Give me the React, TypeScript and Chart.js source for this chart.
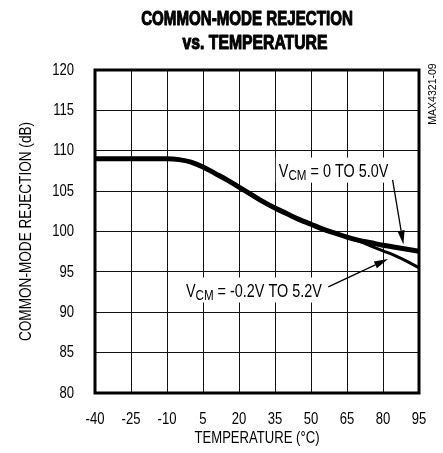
import React, { useEffect, useRef } from "react";
import { Chart, registerables } from "chart.js";

Chart.register(...registerables);

// ---- data ----
const titleLines = ["COMMON-MODE REJECTION", "vs. TEMPERATURE"];
const xAxisTitle = "TEMPERATURE (°C)";
const yAxisTitle = "COMMON-MODE REJECTION (dB)";
const partNumber = "MAX4321-09";

const temperatures = [
  -40, -35, -30, -25, -20, -15, -10, -5, 0, 5, 10, 15, 20, 25, 30, 35, 40, 45,
  50, 55, 60, 65, 70, 75, 80, 85, 90, 95,
];
// V_CM = 0 TO 5.0V
const cmrVcm0to5 = [
  109.0, 109.0, 109.0, 109.0, 109.0, 109.0, 109.0, 108.9, 108.6, 108.0, 107.2,
  106.4, 105.5, 104.6, 103.7, 102.9, 102.2, 101.5, 100.9, 100.3, 99.8, 99.3,
  98.9, 98.6, 98.3, 98.05, 97.8, 97.55,
];
// V_CM = -0.2V TO 5.2V
const cmrVcmM02to52 = [
  109.0, 109.0, 109.0, 109.0, 109.0, 109.0, 109.0, 108.9, 108.6, 108.0, 107.2,
  106.4, 105.5, 104.6, 103.7, 102.9, 102.2, 101.5, 100.9, 100.3, 99.8, 99.3,
  98.8, 98.2, 97.6, 97.0, 96.3, 95.5,
];
const xTicks = [-40, -25, -10, 5, 20, 35, 50, 65, 80, 95];
const yTicks = [80, 85, 90, 95, 100, 105, 110, 115, 120];

// annotation labels (data coordinates: x = temperature, y = dB)
const labelA = { main: "V", sub: "CM", rest: " = 0 TO 5.0V", x: 36.6, y: 106.8 };
const arrowA = { x0: 84.0, y0: 106.4, x1: 88.5, y1: 98.4 };
const labelB = { main: "V", sub: "CM", rest: " = -0.2V TO 5.2V", x: -2.1, y: 91.95 };
const arrowB = { x0: 57.2, y0: 93.15, x1: 82.1, y1: 96.6 };

const FAMILY = "'Liberation Sans', Arial, Helvetica, sans-serif";
const NARROW = 0.82;

type TextOpts = {
  size: number;
  bold?: boolean;
  align?: CanvasTextAlign;
  baseline?: CanvasTextBaseline;
  sx?: number;
  rotate?: number;
  stroke?: number;
};

function setFont(ctx: CanvasRenderingContext2D, size: number, bold?: boolean) {
  ctx.font = `${bold ? "bold " : ""}${size}px ${FAMILY}`;
}

function measureNarrow(ctx: CanvasRenderingContext2D, text: string, size: number, bold = false, sx = NARROW) {
  ctx.save();
  setFont(ctx, size, bold);
  const w = ctx.measureText(text).width * sx;
  ctx.restore();
  return w;
}

function narrowText(ctx: CanvasRenderingContext2D, text: string, x: number, y: number, o: TextOpts) {
  ctx.save();
  setFont(ctx, o.size, o.bold);
  ctx.textAlign = o.align || "left";
  ctx.textBaseline = o.baseline || "alphabetic";
  ctx.fillStyle = "#000";
  ctx.translate(x, y);
  if (o.rotate) ctx.rotate(o.rotate);
  ctx.scale(o.sx ?? NARROW, 1);
  ctx.fillText(text, 0, 0);
  if (o.stroke) {
    ctx.lineWidth = o.stroke;
    ctx.strokeStyle = "#000";
    ctx.lineJoin = "round";
    ctx.strokeText(text, 0, 0);
  }
  ctx.restore();
}

function drawArrow(ctx: CanvasRenderingContext2D, x0: number, y0: number, x1: number, y1: number) {
  const ang = Math.atan2(y1 - y0, x1 - x0);
  const headLen = 14;
  const headW = 3.6;
  const bx = x1 - headLen * Math.cos(ang);
  const by = y1 - headLen * Math.sin(ang);
  ctx.beginPath();
  ctx.moveTo(x0, y0);
  ctx.lineTo(bx, by);
  ctx.lineWidth = 1.3;
  ctx.strokeStyle = "#000";
  ctx.stroke();
  ctx.beginPath();
  ctx.moveTo(x1, y1);
  ctx.lineTo(bx + headW * Math.sin(ang), by - headW * Math.cos(ang));
  ctx.lineTo(bx - headW * Math.sin(ang), by + headW * Math.cos(ang));
  ctx.closePath();
  ctx.fillStyle = "#000";
  ctx.fill();
}

function drawLabel(ctx: CanvasRenderingContext2D, lbl: typeof labelA, px: number, py: number) {
  const mainSize = 18;
  const subSize = 14.5;
  const sx = 0.8;
  const wMain = measureNarrow(ctx, lbl.main, mainSize, false, sx);
  const wSub = measureNarrow(ctx, lbl.sub, subSize, false, sx);
  const wRest = measureNarrow(ctx, lbl.rest, mainSize, false, sx);
  const total = wMain + wSub + wRest;
  ctx.fillStyle = "#fff";
  ctx.fillRect(px - 3, py - 19, total + 6, 25);
  narrowText(ctx, lbl.main, px, py, { size: mainSize, sx });
  narrowText(ctx, lbl.sub, px + wMain, py + 3, { size: subSize, sx });
  narrowText(ctx, lbl.rest, px + wMain + wSub, py, { size: mainSize, sx });
}

const decorPlugin = {
  id: "decor",
  afterDatasetsDraw(chart: any) {
    const { ctx, chartArea, scales } = chart;
    const xs = scales.x;
    const ys = scales.y;
    ctx.save();
    // labels + arrows
    drawLabel(ctx, labelA, xs.getPixelForValue(labelA.x), ys.getPixelForValue(labelA.y));
    drawLabel(ctx, labelB, xs.getPixelForValue(labelB.x), ys.getPixelForValue(labelB.y));
    drawArrow(
      ctx,
      xs.getPixelForValue(arrowA.x0),
      ys.getPixelForValue(arrowA.y0),
      xs.getPixelForValue(arrowA.x1),
      ys.getPixelForValue(arrowA.y1)
    );
    drawArrow(
      ctx,
      xs.getPixelForValue(arrowB.x0),
      ys.getPixelForValue(arrowB.y0),
      xs.getPixelForValue(arrowB.x1),
      ys.getPixelForValue(arrowB.y1)
    );
    // frame
    ctx.strokeStyle = "#000";
    ctx.lineWidth = 3;
    ctx.strokeRect(chartArea.left, chartArea.top, chartArea.right - chartArea.left, chartArea.bottom - chartArea.top);

    // tick labels from the scales' ticks
    xs.ticks.forEach((t: any) => {
      narrowText(ctx, String(t.value), xs.getPixelForValue(t.value), chartArea.bottom + 31, {
        size: 17,
        align: "center",
        sx: 0.77,
      });
    });
    ys.ticks.forEach((t: any) => {
      narrowText(ctx, String(t.value), chartArea.left - 21, ys.getPixelForValue(t.value), {
        size: 17,
        align: "right",
        baseline: "middle",
        sx: 0.77,
      });
    });
    // axis titles
    narrowText(ctx, xAxisTitle, (chartArea.left + chartArea.right) / 2, chartArea.bottom + 50, {
      size: 17,
      align: "center",
      sx: 0.77,
    });
    narrowText(ctx, yAxisTitle, 26, (chartArea.top + chartArea.bottom) / 2, {
      size: 17,
      align: "center",
      baseline: "middle",
      rotate: -Math.PI / 2,
      sx: 0.8,
    });
    // chart title
    narrowText(ctx, titleLines[0], 247, 25, { size: 21, bold: true, align: "center", sx: 0.72, stroke: 1.1 });
    narrowText(ctx, titleLines[1], 255, 49, { size: 21, bold: true, align: "center", sx: 0.75, stroke: 1.1 });
    // part number
    narrowText(ctx, partNumber, chartArea.right + 14, chartArea.top + 24, {
      size: 10.5,
      align: "center",
      baseline: "middle",
      rotate: -Math.PI / 2,
      sx: 1,
    });
    ctx.restore();
  },
};

export default function App() {
  const canvasRef = useRef<HTMLCanvasElement | null>(null);

  useEffect(() => {
    const canvas = canvasRef.current;
    if (!canvas) return;
    const chart = new Chart(canvas, {
      type: "line",
      data: {
        labels: temperatures,
        datasets: [
          {
            label: "VCM = -0.2V TO 5.2V",
            data: temperatures.map((t, i) => ({ x: t, y: cmrVcmM02to52[i] })),
            borderColor: "#000",
            borderWidth: 3,
            pointRadius: 0,
            fill: false,
            cubicInterpolationMode: "monotone",
          },
          {
            label: "VCM = 0 TO 5.0V",
            data: temperatures.map((t, i) => ({ x: t, y: cmrVcm0to5[i] })),
            borderColor: "#000",
            borderWidth: 5,
            pointRadius: 0,
            fill: false,
            cubicInterpolationMode: "monotone",
          },
        ],
      },
      options: {
        responsive: false,
        animation: false,
        devicePixelRatio: 1,
        layout: { padding: { top: 70, right: 24, left: 0, bottom: 0 } },
        plugins: {
          legend: { display: false },
          title: { display: false },
          tooltip: { enabled: false },
        },
        scales: {
          x: {
            type: "linear",
            min: -40,
            max: 95,
            afterBuildTicks: (s: any) => {
              s.ticks = xTicks.map((v) => ({ value: v }));
            },
            afterFit: (s: any) => {
              s.height = 60;
            },
            grid: { color: "#111", lineWidth: 1, drawTicks: false },
            border: { display: false },
            ticks: { display: false },
            title: { display: false, text: xAxisTitle },
          },
          y: {
            type: "linear",
            min: 80,
            max: 120,
            afterBuildTicks: (s: any) => {
              s.ticks = yTicks.map((v) => ({ value: v }));
            },
            afterFit: (s: any) => {
              s.width = 95;
            },
            grid: { color: "#111", lineWidth: 1, drawTicks: false },
            border: { display: false },
            ticks: { display: false },
            title: { display: false, text: yAxisTitle },
          },
        },
      },
      plugins: [decorPlugin],
    } as any);
    return () => chart.destroy();
  }, []);

  return (
    <div style={{ position: "absolute", left: 0, top: 0, width: 443, height: 453, background: "#fff" }}>
      <canvas ref={canvasRef} width={443} height={453} style={{ width: 443, height: 453, display: "block" }} />
    </div>
  );
}
